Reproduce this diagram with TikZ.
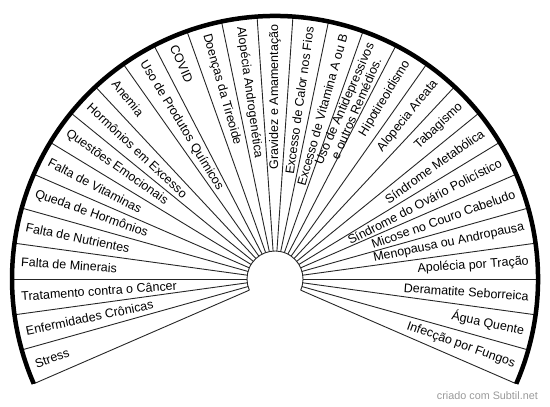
\documentclass[tikz,border=0pt]{standalone}
\usepackage{fontspec}
\setmainfont{Liberation Sans}

\begin{document}
\begin{tikzpicture}[x=1pt, y=1pt,
  spoke/.style={draw=black!85, line width=0.9pt},
  rim/.style={draw=black, line width=4.5pt},
  cause/.style={font=\fontsize{12.5}{13}\selectfont, inner sep=1.5pt, align=center}]
  \useasboundingbox (0,0) rectangle (550,407);
  \coordinate (O) at (275,128);
  \def\rin{28}
  \def\rout{263}
  \def\sect{7.826087}
  \def\first{203.478261}
  % spokes between the sectors
  \foreach \k in {0,...,29}{
    \pgfmathsetmacro\ang{\first-\k*\sect}
    \draw[spoke] ([shift={(\ang:\rin)}]O) -- ([shift={(\ang:\rout)}]O);
  }
  % small inner arc and thick outer rim
  \draw[spoke] ([shift={(-23.478261:\rin)}]O) arc[start angle=-23.478261, end angle=203.478261, radius=\rin];
  \draw[rim] ([shift={(-23.478261:\rout)}]O) arc[start angle=-23.478261, end angle=203.478261, radius=\rout];
  % one label per sector, read from the rim inwards
  \foreach \txt [count=\k] in {{Stress}, {Enfermidades Crônicas}, {Tratamento contra o Câncer},
      {Falta de Minerais}, {Falta de Nutrientes}, {Queda de Hormônios}, {Falta de Vitaminas},
      {Questões Emocionais}, {Hormônios em Excesso}, {Anemia}, {Uso de Produtos Químicos},
      {COVID}, {Doenças da Tireoide}, {Alopécia Androgenética}, {Gravidez e Amamentação},
      {Excesso de Calor nos Fios}, {Excesso de Vitamina A ou B},
      {Uso de Antidepressivos\\e outros Remédios.}, {Hipotireoidismo}, {Alopecia Areata},
      {Tabagismo}, {Síndrome Metabólica}, {Síndrome do Ovário Policístico},
      {Micose no Couro Cabeludo}, {Menopausa ou Andropausa}, {Apolécia por Tração},
      {Deramatite Seborreica}, {Água Quente}, {Infecção por Fungos}}{
    \pgfmathsetmacro\ang{\first-(\k-0.5)*\sect}
    \pgfmathsetmacro\rr{\rout-7}
    \ifdim\ang pt>90.5pt
      \pgfmathsetmacro\rot{\ang-180}
      \node[cause, anchor=west, rotate=\rot] (c\k) at ([shift={(\ang:\rr)}]O) {\txt};
    \else
      \node[cause, anchor=east, rotate=\ang] (c\k) at ([shift={(\ang:\rr)}]O) {\txt};
    \fi
  }
  \node[text=black!40, font=\fontsize{10.8}{12}\selectfont, anchor=base east, inner sep=0pt]
    (credit) at (538,7) {criado com Subtil.net};
\end{tikzpicture}
\end{document}
